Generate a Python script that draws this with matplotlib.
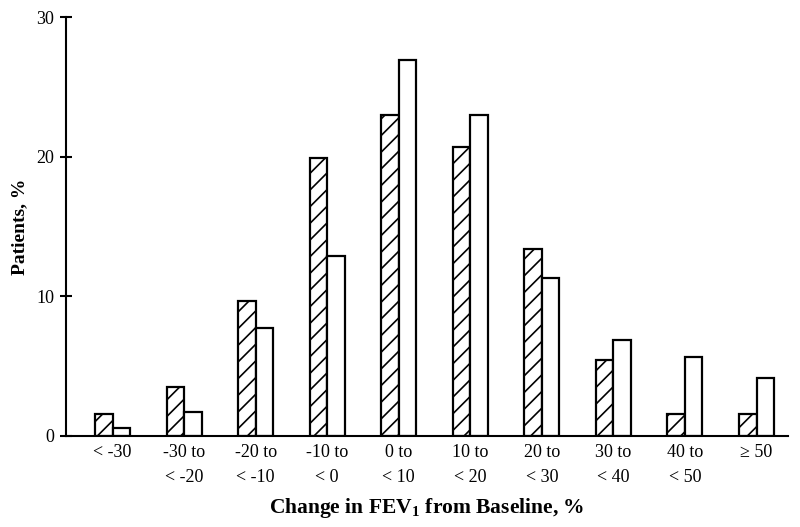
import numpy as np
import matplotlib.pyplot as plt

plt.rcParams['font.family'] = ['Liberation Serif', 'DejaVu Serif']
plt.rcParams['mathtext.fontset'] = 'custom'
plt.rcParams['mathtext.bf'] = 'Liberation Serif:bold'
plt.rcParams['mathtext.rm'] = 'Liberation Serif'
plt.rcParams['hatch.linewidth'] = 1.2

# data
categories = ["< -30", "-30 to\n< -20", "-20 to\n< -10", "-10 to\n< 0", "0 to\n< 10",
              "10 to\n< 20", "20 to\n< 30", "30 to\n< 40", "40 to\n< 50", "\u2265 50"]
hatched = [1.6, 3.5, 9.65, 19.9, 23.0, 20.7, 13.4, 5.45, 1.6, 1.6]
open_ = [0.55, 1.7, 7.7, 12.9, 26.9, 23.0, 11.3, 6.9, 5.65, 4.15]
yticks = [0, 10, 20, 30]

fig = plt.figure(figsize=(8, 5.27), dpi=100)
ax = fig.add_axes([0.0825, 0.1727, 0.9025, 0.795])

x = np.arange(len(categories))
w = 0.245
ax.bar(x - w / 2, hatched, w, facecolor="white", edgecolor="black",
       linewidth=1.6, hatch="//")
ax.bar(x + w / 2, open_, w, facecolor="white", edgecolor="black", linewidth=1.6)

ax.set_xlim(-0.65, 9.44)
ax.set_ylim(0, 30)
ax.set_yticks(yticks)
ax.set_xticks(x)
ax.set_xticklabels(categories, fontsize=13, linespacing=1.6)
ax.tick_params(axis="x", length=0, pad=6)
ax.tick_params(axis="y", direction="inout", length=9, width=1.5, labelsize=13, pad=4)
for s in ["top", "right"]:
    ax.spines[s].set_visible(False)
ax.spines["left"].set_linewidth(1.5)
ax.spines["bottom"].set_linewidth(1.5)

ax.set_ylabel("Patients, %", fontsize=14, fontweight="bold", labelpad=6)
ax.set_xlabel(r"Change in FEV$_{\mathbf{1}}$ from Baseline, %", fontsize=15.5,
              fontweight="bold", labelpad=7)

fig.savefig("out.png", dpi=100)
